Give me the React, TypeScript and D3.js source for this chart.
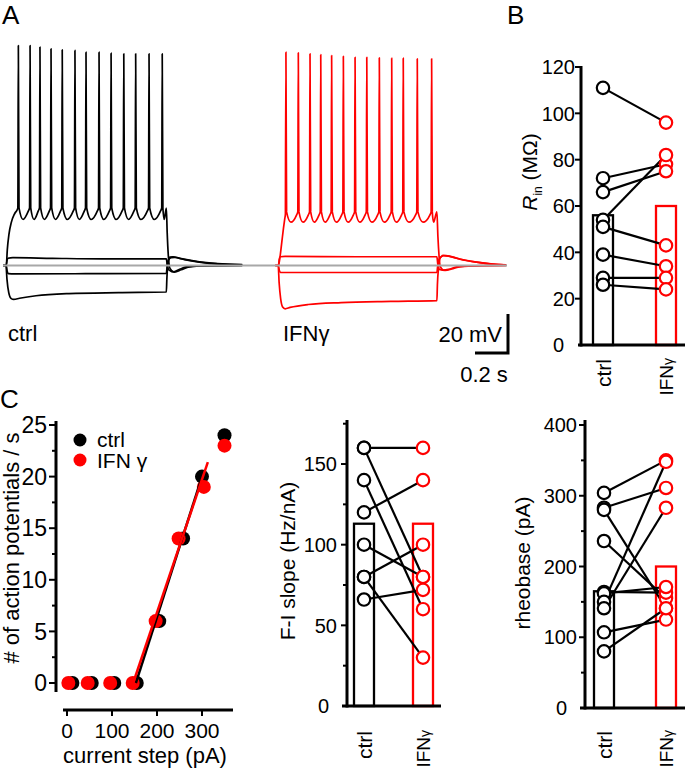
import React from "react";
import * as d3 from "d3";

const FONT = "'Liberation Sans', Arial, Helvetica, sans-serif";
const RED = "#ff0000";
const GREY = "#a8a8a8";

// ---------------- Panel A: voltage traces (time in s, Vm in mV) ----------------
const restMV = -65;
const spikeTimesCtrl = [0.093, 0.164, 0.224, 0.291, 0.359, 0.436, 0.503, 0.582, 0.655, 0.732, 0.804, 0.885, 0.965];
const spikePeaksCtrl = [47.8, 47.8, 47, 46.1, 45.6, 45.3, 44.4, 44.4, 43.9, 43.6, 43.6, 43.6, 43.6];
const spikeTimesIfn = [0.065, 0.14, 0.211, 0.276, 0.342, 0.413, 0.484, 0.555, 0.631, 0.706, 0.776, 0.861, 0.948];
const spikePeaksIfn = [44.4, 44.1, 43.6, 43.1, 42.7, 42.3, 41.8, 41.8, 41.5, 41.3, 41.3, 41, 41];
const thrCtrl = -35.5, troughCtrl = -41.4;
const thrIfn = -37.5, troughIfn = -42.8;

type P = [number, number];
const ctrlRise: P[] = [[0, -65], [0.02, -65], [0.026, -57], [0.036, -49], [0.05, -43], [0.07, -38.5], [0.088, -36]];
const ctrlSpikeTail: P[] = [[0.99, -35.5], [0.995, -48], [1.002, -60], [1.012, -66.5], [1.035, -68.2], [1.07, -67], [1.11, -65.7], [1.2, -65.2], [1.45, -65]];
const ctrlSmallDepol: P[] = [[0, -65], [0.02, -65], [0.024, -62.5], [0.03, -61.3], [0.06, -61], [0.3, -61.3], [0.6, -61.6], [0.99, -61.6], [0.995, -64.5], [1.005, -67.2], [1.04, -68.4], [1.08, -67.2], [1.13, -65.7], [1.25, -65.1], [1.45, -65]];
const ctrlSmallHyper: P[] = [[0, -65], [0.02, -65], [0.025, -67.8], [0.033, -69.2], [0.07, -69.3], [0.5, -69.2], [0.99, -69], [0.995, -65], [1.003, -62], [1.02, -61], [1.04, -60.9], [1.1, -62], [1.2, -63.4], [1.32, -64.3], [1.45, -64.7]];
const ctrlBigHyper: P[] = [[0, -65], [0.018, -65], [0.024, -72], [0.035, -79], [0.05, -82], [0.065, -82.4], [0.1, -81.8], [0.2, -80.5], [0.4, -79.4], [0.7, -78.9], [0.99, -78.6], [0.993, -72], [1.0, -64], [1.012, -60.7], [1.03, -60.5], [1.08, -61.5], [1.18, -63], [1.3, -64], [1.45, -64.5]];

const ifnRise: P[] = [[0, -65], [0.02, -65], [0.03, -60], [0.04, -53], [0.05, -46], [0.058, -41], [0.062, -38.5]];
const ifnSpikeTail: P[] = [[0.98, -37.5], [0.986, -50], [0.993, -60], [1.0, -65.5], [1.02, -67.3], [1.05, -67], [1.1, -65.7], [1.2, -65.2], [1.4, -65]];
const ifnSmallDepol: P[] = [[0, -65], [0.02, -65], [0.024, -62], [0.03, -60.5], [0.06, -60.3], [0.5, -60.5], [0.98, -60.5], [0.985, -64], [0.995, -67], [1.03, -67.5], [1.07, -66.8], [1.12, -65.6], [1.25, -65.1], [1.4, -65]];
const ifnSmallHyper: P[] = [[0, -65], [0.02, -65], [0.025, -67.5], [0.033, -68.6], [0.5, -68.6], [0.98, -68.6], [0.985, -65], [0.995, -61.5], [1.02, -60], [1.05, -60.2], [1.1, -61.3], [1.2, -63], [1.3, -64.2], [1.4, -64.8]];
const ifnBigHyper: P[] = [[0, -65], [0.018, -65], [0.024, -74], [0.033, -82], [0.045, -86.3], [0.06, -87.2], [0.09, -86.5], [0.2, -85], [0.4, -84], [0.7, -83.4], [0.98, -83], [0.983, -75], [0.99, -66], [1.0, -61], [1.02, -59.8], [1.06, -60.3], [1.12, -61.8], [1.22, -63.3], [1.32, -64.3], [1.4, -64.7]];

const scaleBarMV = 20;
const scaleBarS = 0.2;

// ---------------- Panel B: input resistance (MΩ) ----------------
const groups = ["ctrl", "IFNγ"];
const rinCtrl = [111, 72, 66, 54, 51, 39, 29, 26];
const rinIfn = [96, 78, 75, 82, 43, 34, 29, 24];
const rinMeans = [56, 60];
const rinTicks = [0, 20, 40, 60, 80, 100, 120];

// ---------------- Panel C: F-I curve ----------------
const apXCtrl = [12, 55, 105, 155, 205, 258, 300, 350];
const apXIfn = [3, 46, 96, 146, 197, 248, 304, 350];
const apCtrl = [0, 0, 0, 0, 6, 14, 20, 24];
const apIfn = [0, 0, 0, 0, 6, 14, 19, 23];
const fitCtrlX = [153, 300];
const fitCtrlY = [0, 20];
const fitIfnX = [147, 313];
const fitIfnY = [0, 21.4];
const apYTicks = [0, 5, 10, 15, 20, 25];
const apXTicks = [0, 100, 200, 300];

// F-I slope (Hz/nA)
const fiCtrl = [160, 160, 140, 120, 100, 80, 80, 66];
const fiIfn = [160, 80, 60, 140, 80, 100, 30, 72];
const fiMeans = [113, 113];
const fiTicks = [0, 50, 100, 150];
const fiMinor = [25, 75, 125, 175];

// rheobase (pA)
const rbCtrl = [304, 283, 280, 236, 164, 162, 150, 141, 107, 80];
const rbIfn = [350, 311, 141, 155, 163, 171, 348, 283, 125, 141];
const rbMeans = [165, 200];
const rbTicks = [0, 100, 200, 300, 400];
const rbMinor = [50, 150, 250, 350];

function spikingTrace(rise: P[], times: number[], peaks: number[], thr: number, trough: number, tail: P[]): P[] {
  const pts: P[] = [...rise];
  times.forEach((t, i) => {
    pts.push([t - 0.003, thr]);
    pts.push([t, peaks[i]]);
    pts.push([t + 0.004, thr]);
    if (i < times.length - 1) {
      const isi = times[i + 1] - t;
      pts.push([t + 0.4 * isi, trough]);
      pts.push([times[i + 1] - 0.01, thr - 1.5]);
    } else {
      pts.push([t + 0.012, trough]);
    }
  });
  return pts.concat(tail);
}

function TracePanel({ x0, color, traces }: { x0: number; color: string; traces: P[][] }) {
  const xs = d3.scaleLinear().domain([0, 1]).range([x0, x0 + 165]);
  const ys = d3.scaleLinear().domain([restMV, restMV + 20]).range([265.5, 226.5]);
  const line = d3.line<P>().x((d) => xs(d[0])).y((d) => ys(d[1])).curve(d3.curveMonotoneX);
  return (
    <g>
      {traces.map((tr, i) => (
        <path key={i} d={line(tr) || ""} fill="none" stroke={color} strokeWidth={1.7} strokeLinejoin="round" />
      ))}
    </g>
  );
}

type PairedProps = {
  axisX: number;
  yDomain: [number, number];
  yRange: [number, number];
  axisTop: number;
  ticks: number[];
  minor?: number[];
  ctrl: number[];
  ifn: number[];
  means: number[];
  xCtrl: number;
  xIfn: number;
  barW: number;
  baseX1: number;
  baseX2: number;
  labelRight: number;
  zeroRight: number;
  tickFont: number;
  yLabel: React.ReactNode;
  yLabelX: number;
  yLabelY: number;
  yLabelFont: number;
  catTop: number;
};

function PairedPanel(p: PairedProps) {
  const y = d3.scaleLinear().domain(p.yDomain).range(p.yRange);
  const xc = d3.scalePoint<string>().domain(groups).range([p.xCtrl, p.xIfn]);
  const base = y(0);
  const colors = ["#000", RED];
  return (
    <g>
      {p.means.map((m, i) => (
        <rect key={i} x={(xc(groups[i]) as number) - p.barW / 2} y={y(m)} width={p.barW} height={base - y(m)} fill="none" stroke={colors[i]} strokeWidth={2.3} />
      ))}
      {p.ctrl.map((v, i) => (
        <line key={i} x1={xc(groups[0])} y1={y(v)} x2={xc(groups[1])} y2={y(p.ifn[i])} stroke="#000" strokeWidth={2.2} />
      ))}
      {p.ctrl.map((v, i) => (
        <circle key={"c" + i} cx={xc(groups[0])} cy={y(v)} r={6.2} fill="#fff" stroke="#000" strokeWidth={2.2} />
      ))}
      {p.ifn.map((v, i) => (
        <circle key={"r" + i} cx={xc(groups[1])} cy={y(v)} r={6.2} fill="#fff" stroke={RED} strokeWidth={2.2} />
      ))}
      <line x1={p.axisX} x2={p.axisX} y1={p.axisTop} y2={base + 1.5} stroke="#000" strokeWidth={3} />
      <line x1={p.baseX1} x2={p.baseX2} y1={base} y2={base} stroke="#000" strokeWidth={3} />
      {p.ticks.map((t) => (
        <g key={t}>
          {t !== 0 && <line x1={p.axisX - 6} x2={p.axisX} y1={y(t)} y2={y(t)} stroke="#000" strokeWidth={2} />}
          <text x={t === 0 ? p.zeroRight : p.labelRight} y={y(t)} dy="0.36em" textAnchor="end" fontSize={p.tickFont}>{t}</text>
        </g>
      ))}
      {(p.minor || []).map((t) => (
        <line key={"m" + t} x1={p.axisX - 4} x2={p.axisX} y1={y(t)} y2={y(t)} stroke="#000" strokeWidth={2} />
      ))}
      <text transform={`translate(${p.yLabelX},${p.yLabelY}) rotate(-90)`} textAnchor="middle" fontSize={p.yLabelFont}>{p.yLabel}</text>
      <text transform={`translate(${(xc(groups[0]) as number) + 7.5},${p.catTop}) rotate(-90)`} textAnchor="end" fontSize={21}>{groups[0]}</text>
      <text transform={`translate(${(xc(groups[1]) as number) + 7},${p.catTop - 1}) rotate(-90)`} textAnchor="end" fontSize={19}>
        <tspan>IFN</tspan><tspan fontSize={14}>γ</tspan>
      </text>
    </g>
  );
}

export default function App() {
  const ctrlTraces = [
    ctrlBigHyper,
    ctrlSmallHyper,
    ctrlSmallDepol,
    spikingTrace(ctrlRise, spikeTimesCtrl, spikePeaksCtrl, thrCtrl, troughCtrl, ctrlSpikeTail),
  ];
  const ifnTraces = [
    ifnBigHyper,
    ifnSmallHyper,
    ifnSmallDepol,
    spikingTrace(ifnRise, spikeTimesIfn, spikePeaksIfn, thrIfn, troughIfn, ifnSpikeTail),
  ];
  const vScale = d3.scaleLinear().domain([restMV, restMV + 20]).range([265.5, 226.5]);
  const tScale = d3.scaleLinear().domain([0, 1]).range([0, 165]);
  const sbV = Math.abs(vScale(restMV) - vScale(restMV + scaleBarMV));
  const sbT = tScale(scaleBarS);

  const cx = d3.scaleLinear().domain([0, 300]).range([67, 202]);
  const cy = d3.scaleLinear().domain([0, 25]).range([683, 425]);

  return (
    <svg width={685} height={773} style={{ position: "absolute", left: 0, top: 0, background: "#fff" }} fontFamily={FONT}>
      <rect width={685} height={773} fill="#fff" />
      <text x={2} y={24} fontSize={26}>A</text>
      <text x={507} y={24} fontSize={26}>B</text>
      <text x={0} y={408} fontSize={26}>C</text>

      {/* Panel A */}
      <TracePanel x0={3} color="#000" traces={ctrlTraces} />
      <TracePanel x0={275.2} color={RED} traces={ifnTraces} />
      <line x1={3} x2={507} y1={265.5} y2={265.5} stroke={GREY} strokeWidth={2.2} />
      <text x={8} y={341} fontSize={22}>ctrl</text>
      <text x={283} y={341} fontSize={22}>IFNγ</text>
      <path d={`M${508 - sbT},${353} H508 V${353 - sbV}`} fill="none" stroke="#000" strokeWidth={3} />
      <text x={502} y={342} textAnchor="end" fontSize={22}>20 mV</text>
      <text x={484} y={382} textAnchor="middle" fontSize={22}>0.2 s</text>

      {/* Panel B */}
      <PairedPanel
        axisX={581} yDomain={[0, 120]} yRange={[345, 67]} axisTop={66} ticks={rinTicks}
        ctrl={rinCtrl} ifn={rinIfn} means={rinMeans} xCtrl={603} xIfn={666} barW={20}
        baseX1={578} baseX2={685} labelRight={575} zeroRight={564} tickFont={20}
        yLabel={<><tspan fontStyle="italic">R</tspan><tspan fontSize={12} dy={5}>in</tspan><tspan dy={-5}> (MΩ)</tspan></>}
        yLabelX={537} yLabelY={172} yLabelFont={21} catTop={359}
      />

      {/* Panel C: F-I relationship */}
      <g>
        <line x1={56} x2={56} y1={421} y2={692} stroke="#000" strokeWidth={3} />
        {apYTicks.map((t) => (
          <g key={t}>
            <line x1={49} x2={56} y1={cy(t)} y2={cy(t)} stroke="#000" strokeWidth={2} />
            <text x={47} y={cy(t)} dy="0.36em" textAnchor="end" fontSize={23}>{t}</text>
          </g>
        ))}
        {apYTicks.slice(0, -1).map((t) => (
          <line key={"m" + t} x1={52} x2={56} y1={cy(t + 2.5)} y2={cy(t + 2.5)} stroke="#000" strokeWidth={2} />
        ))}
        <line x1={63} x2={233} y1={710} y2={710} stroke="#000" strokeWidth={3} />
        {apXTicks.map((t) => (
          <g key={t}>
            <line x1={cx(t)} x2={cx(t)} y1={710} y2={716} stroke="#000" strokeWidth={2} />
            <text x={cx(t)} y={738} textAnchor="middle" fontSize={21}>{t}</text>
          </g>
        ))}
        <text x={145} y={763} textAnchor="middle" fontSize={22}>current step (pA)</text>
        <text transform="translate(19,548) rotate(-90)" textAnchor="middle" fontSize={22}># of action potentials / s</text>
        {apCtrl.map((v, i) => (
          <circle key={"k" + i} cx={cx(apXCtrl[i])} cy={cy(v)} r={7} fill="#000" />
        ))}
        {apIfn.map((v, i) => (
          <circle key={"r" + i} cx={cx(apXIfn[i])} cy={cy(v)} r={7} fill={RED} />
        ))}
        <line x1={cx(fitCtrlX[0])} y1={cy(fitCtrlY[0])} x2={cx(fitCtrlX[1])} y2={cy(fitCtrlY[1])} stroke="#000" strokeWidth={2.5} />
        <line x1={cx(fitIfnX[0])} y1={cy(fitIfnY[0])} x2={cx(fitIfnX[1])} y2={cy(fitIfnY[1])} stroke={RED} strokeWidth={2.5} />
        <circle cx={80} cy={440} r={6.5} fill="#000" />
        <text x={97} y={447} fontSize={21}>ctrl</text>
        <circle cx={80} cy={460} r={6.5} fill={RED} />
        <text x={97} y={468} fontSize={21}>IFN γ</text>
      </g>

      {/* F-I slope */}
      <PairedPanel
        axisX={347} yDomain={[0, 175]} yRange={[706, 423.7]} axisTop={420} ticks={fiTicks} minor={fiMinor}
        ctrl={fiCtrl} ifn={fiIfn} means={fiMeans} xCtrl={364} xIfn={423} barW={20}
        baseX1={342} baseX2={441} labelRight={337} zeroRight={329} tickFont={20}
        yLabel="F-I slope (Hz/nA)" yLabelX={295} yLabelY={561} yLabelFont={21} catTop={731}
      />

      {/* rheobase */}
      <PairedPanel
        axisX={585} yDomain={[0, 400]} yRange={[708, 425]} axisTop={420} ticks={rbTicks} minor={rbMinor}
        ctrl={rbCtrl} ifn={rbIfn} means={rbMeans} xCtrl={604} xIfn={666} barW={20}
        baseX1={580} baseX2={685} labelRight={577} zeroRight={567} tickFont={20}
        yLabel="rheobase (pA)" yLabelX={530} yLabelY={563} yLabelFont={21} catTop={731}
      />
    </svg>
  );
}
